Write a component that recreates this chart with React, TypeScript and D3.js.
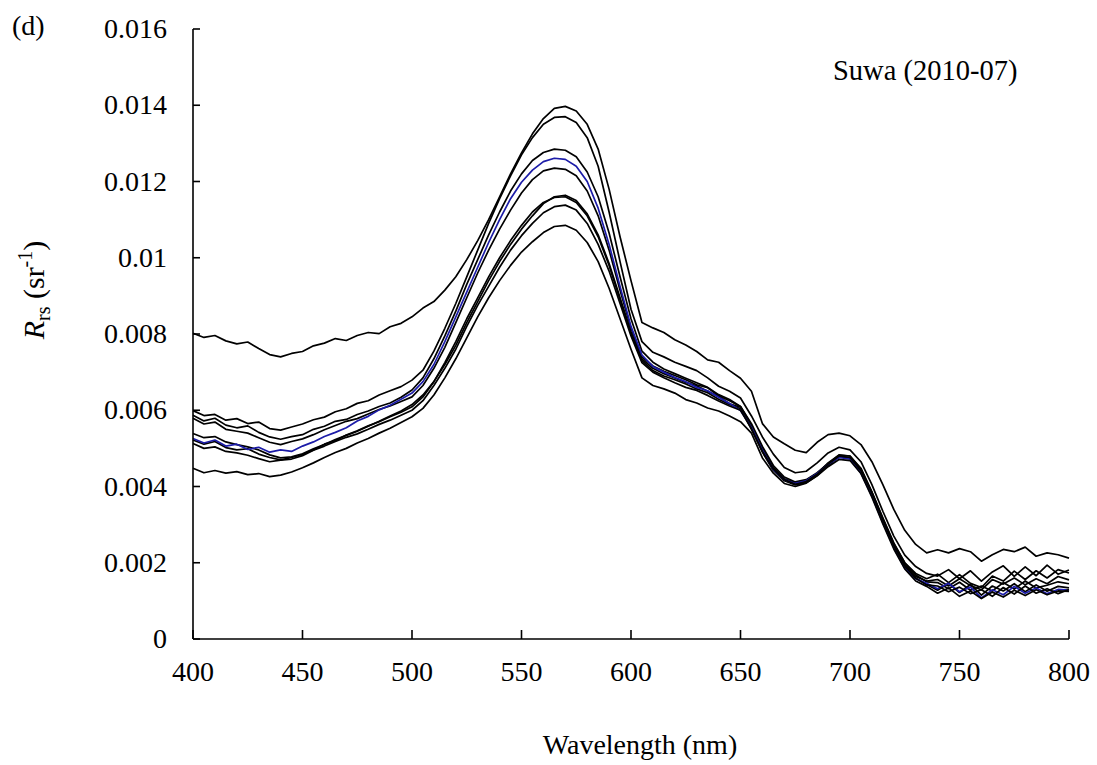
import React from "react";
import * as d3 from "d3";

// wavelengths 400..800 nm every 5 nm
const wavelengths: number[] = Array.from({ length: 81 }, (_, i) => 400 + i * 5);

// Rrs values in units of 1e-4 sr^-1
const curve1 = [80.2,79.1,79.6,78.2,77.4,77.9,76.2,74.6,74.0,74.9,75.4,76.9,77.6,78.8,78.3,79.6,80.4,80.1,81.9,82.8,84.5,86.8,88.5,91.5,95.0,99.5,104.5,110.0,116.0,122.0,127.5,132.5,136.5,139.2,139.7,138.5,135.0,128.5,118.0,105.5,94.0,83.0,81.6,80.4,78.5,77.1,75.4,73.2,72.6,70.4,68.4,65.0,56.5,53.0,51.2,49.5,48.9,51.6,53.6,54.0,53.3,51.0,46.5,40.5,34.0,28.5,24.8,22.6,23.4,22.6,23.7,22.9,20.4,22.1,23.5,22.9,24.1,21.7,22.6,22.1,21.2];
const curve2 = [59.9,58.6,58.9,57.4,57.8,56.5,56.9,55.2,54.8,55.6,56.4,57.5,58.2,59.6,60.4,61.8,62.5,64.0,65.1,66.2,67.9,70.5,75.5,81.5,88.0,95.0,102.0,109.0,115.5,121.5,127.0,131.5,135.0,136.8,137.0,135.5,131.5,124.0,112.0,99.0,86.5,78.0,75.2,74.0,72.6,71.5,70.4,68.5,66.3,65.0,63.2,58.5,53.0,48.5,45.0,43.6,44.0,46.2,48.8,50.3,49.6,46.5,40.5,33.5,27.0,22.0,19.0,17.2,16.5,18.2,15.8,17.9,15.2,17.6,19.2,16.4,18.9,16.6,19.4,17.0,18.1];
const curve3 = [58.7,57.2,57.9,56.1,55.4,55.9,54.2,53.0,52.4,53.1,53.6,55.0,55.8,57.1,57.6,58.9,59.8,61.0,61.9,63.4,65.3,68.5,73.5,79.5,86.0,93.0,99.5,106.0,112.0,117.5,122.0,125.5,127.6,128.5,128.2,126.5,122.5,116.0,106.5,95.0,84.0,75.5,72.6,70.8,69.6,68.4,67.2,66.0,64.1,62.8,61.0,56.5,50.5,45.5,42.5,41.2,41.8,43.6,46.0,48.2,48.0,44.5,38.5,31.5,25.0,20.0,17.2,15.8,17.0,14.8,16.9,14.6,13.5,16.5,15.2,17.8,15.6,17.9,16.0,18.2,17.3];
const curveBlue = [52.6,51.4,52.2,50.6,51.1,49.7,50.3,49.0,49.6,49.2,50.6,51.7,53.1,54.2,55.4,57.2,58.4,60.1,61.3,62.9,64.5,67.5,72.0,78.0,84.5,91.0,97.5,104.0,110.0,115.5,119.8,123.0,125.2,126.1,125.8,124.0,120.0,113.0,103.5,92.5,82.0,74.5,71.5,70.0,68.6,67.5,66.0,65.1,63.4,61.8,59.9,55.5,49.5,44.5,41.8,40.8,41.5,43.4,45.8,47.6,47.2,43.5,37.5,30.5,24.0,18.5,15.8,14.6,13.2,14.6,12.4,13.6,10.8,12.9,11.6,13.8,12.0,13.4,11.9,13.0,12.8];
const curve5 = [57.9,56.4,56.9,55.0,54.5,54.0,52.8,51.6,51.0,51.8,52.5,53.6,54.9,56.0,57.1,57.8,59.0,60.2,61.1,62.3,63.5,66.5,71.0,76.5,83.0,89.5,96.0,102.0,107.5,112.5,117.0,120.5,122.8,123.5,123.2,121.5,117.5,111.0,102.0,91.5,81.5,74.0,71.6,70.2,69.1,68.0,66.7,65.9,63.8,62.5,61.0,56.0,50.0,45.0,42.0,41.0,41.4,43.0,45.5,47.8,47.5,44.0,38.0,31.0,24.5,19.5,16.4,15.2,15.6,13.9,15.8,14.0,12.9,15.6,14.4,16.0,14.2,15.8,14.5,16.4,15.5];
const curve6 = [53.9,52.8,53.1,51.7,51.0,50.4,49.6,48.3,47.5,47.8,48.6,49.9,51.0,52.3,53.4,54.5,55.8,57.1,58.5,59.8,61.5,64.0,67.5,72.0,77.0,83.0,88.5,94.0,99.0,103.5,107.5,111.0,114.2,116.0,116.4,115.0,111.5,106.0,98.5,89.5,80.5,73.5,71.0,69.6,68.5,67.3,66.4,65.0,63.6,61.7,60.8,55.8,49.5,44.8,41.9,40.9,41.6,43.4,46.2,48.3,48.0,44.8,38.6,31.8,25.2,20.0,16.8,15.0,14.8,13.2,14.9,12.8,13.9,12.6,14.8,13.1,15.2,13.4,14.1,15.0,14.5];
const curve7 = [52.2,51.1,51.8,50.2,49.6,49.9,48.5,47.6,47.0,47.6,48.4,49.6,51.1,52.0,53.5,54.6,55.9,57.0,58.3,59.5,60.9,63.5,67.5,72.5,78.0,84.0,89.5,95.0,100.0,104.5,108.5,112.0,114.5,115.8,116.0,114.5,111.0,105.5,98.0,89.0,80.0,73.0,70.4,69.0,68.0,66.9,65.6,64.6,62.9,61.5,60.4,55.0,49.0,44.2,41.5,40.4,41.0,42.9,45.6,47.9,47.4,44.0,38.0,31.0,24.2,19.0,16.0,14.3,12.8,14.6,12.2,14.3,11.5,13.9,12.6,14.5,12.4,14.2,12.5,13.8,13.4];
const curve8 = [51.3,50.0,50.4,49.2,48.8,48.2,47.3,46.5,46.9,47.2,48.1,49.5,50.6,51.8,52.9,53.8,55.0,56.3,57.4,58.7,60.0,62.5,66.5,71.0,76.0,82.0,87.5,92.5,97.5,102.0,105.8,109.0,111.8,113.4,113.8,112.5,109.0,103.5,96.5,88.0,79.5,72.5,70.0,68.5,67.2,66.0,65.2,63.9,62.4,61.1,60.0,55.2,49.2,44.6,41.8,40.6,41.3,43.2,45.9,48.0,47.6,44.2,38.3,31.2,24.5,19.2,15.9,14.2,13.9,12.4,13.6,11.9,12.9,11.2,13.5,11.8,13.9,12.0,13.2,11.9,13.0];
const curve9 = [44.8,43.6,44.2,43.5,43.9,43.1,43.4,42.6,43.0,43.8,44.9,46.2,47.6,48.9,50.0,51.4,52.6,54.0,55.3,56.8,58.3,60.5,64.0,68.5,73.5,79.0,84.5,89.5,94.0,98.0,101.5,104.2,106.6,108.2,108.5,107.2,104.0,99.0,92.0,84.0,76.0,68.5,66.5,65.6,64.5,62.8,61.9,60.6,59.8,58.5,57.0,54.0,47.5,43.5,40.8,40.0,40.9,42.8,45.2,47.1,46.8,43.4,37.2,30.2,23.6,18.4,15.2,13.8,12.0,13.4,11.2,12.6,10.6,12.3,11.0,12.8,11.4,12.9,11.6,12.6,12.5];

const seriesList = [
  { name: "s1", values: curve1, color: "#000000" },
  { name: "s2", values: curve2, color: "#000000" },
  { name: "s3", values: curve3, color: "#000000" },
  { name: "s5", values: curve5, color: "#000000" },
  { name: "s6", values: curve6, color: "#000000" },
  { name: "s7", values: curve7, color: "#000000" },
  { name: "blue", values: curveBlue, color: "#1c1ca8" },
  { name: "s8", values: curve8, color: "#000000" },
  { name: "s9", values: curve9, color: "#000000" },
];

const xTicks = [400, 450, 500, 550, 600, 650, 700, 750, 800];
const yTicks = [0, 0.002, 0.004, 0.006, 0.008, 0.01, 0.012, 0.014, 0.016];
const yTickLabels = ["0", "0.002", "0.004", "0.006", "0.008", "0.01", "0.012", "0.014", "0.016"];

const FONT = "'Liberation Serif', 'Times New Roman', serif";

export default function App() {
  const W = 1097, H = 765;
  const x = d3.scaleLinear().domain([400, 800]).range([193, 1069]);
  const y = d3.scaleLinear().domain([0, 0.016]).range([639, 29]);
  const line = d3
    .line<number>()
    .x((_, i) => x(wavelengths[i]))
    .y((d) => y(d * 1e-4));

  return (
    <svg
      width={W}
      height={H}
      style={{ position: "absolute", left: 0, top: 0, background: "#fff" }}
      fontFamily={FONT}
    >
      <rect x={0} y={0} width={W} height={H} fill="#fff" />
      {/* series */}
      <g fill="none" strokeWidth={1.7} strokeLinejoin="round">
        {seriesList.map((s) => (
          <path key={s.name} d={line(s.values) || ""} stroke={s.color} />
        ))}
      </g>
      {/* axes */}
      <g stroke="#000" strokeWidth={1.6}>
        <line x1={x(400)} x2={x(400)} y1={y(0.016)} y2={y(0)} />
        <line x1={x(400)} x2={x(800)} y1={y(0)} y2={y(0)} />
        {yTicks.map((t) => (
          <line key={"yt" + t} x1={x(400)} x2={x(400) + 7} y1={y(t)} y2={y(t)} />
        ))}
        {xTicks.map((t) => (
          <line key={"xt" + t} x1={x(t)} x2={x(t)} y1={y(0)} y2={y(0) - 9} />
        ))}
      </g>
      <g fontSize={28} fill="#000">
        {yTicks.map((t, i) => (
          <text key={"yl" + t} x={167} y={y(t)} dy="0.33em" textAnchor="end">
            {yTickLabels[i]}
          </text>
        ))}
        {xTicks.map((t) => (
          <text key={"xl" + t} x={x(t)} y={681} textAnchor="middle">
            {t}
          </text>
        ))}
        <text x={640} y={754} textAnchor="middle">Wavelength (nm)</text>
        <text x={833} y={80} fontSize={28.5}>Suwa (2010-07)</text>
      </g>
      <text x={12} y={35} fontSize={28} fill="#000">(d)</text>
      <text
        transform="translate(44,290) rotate(-90)"
        textAnchor="middle"
        fontSize={30}
        fill="#000"
      >
        <tspan fontStyle="italic">R</tspan>
        <tspan fontSize={20} dy={6}>rs</tspan>
        <tspan dy={-6}>{"\u00a0(sr"}</tspan>
        <tspan fontSize={20} dy={-12}>-1</tspan>
        <tspan dy={12}>)</tspan>
      </text>
    </svg>
  );
}
